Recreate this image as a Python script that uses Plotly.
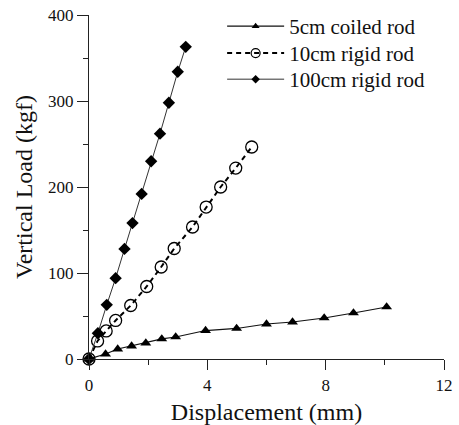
import plotly.graph_objects as go

# 5cm coiled rod
coil_x = [0, 0.56, 0.97, 1.44, 1.92, 2.46, 2.93, 3.94, 4.99, 6.0, 6.88, 7.95, 8.94, 10.06]
coil_y = [0, 5.8, 11.6, 15.1, 18.6, 23.3, 25.6, 33.1, 35.5, 40.7, 43.0, 47.7, 53.5, 60.5]

# 10cm rigid rod
r10_x = [0, 0.29, 0.58, 0.90, 1.41, 1.95, 2.44, 2.88, 3.50, 3.96, 4.45, 4.96, 5.50]
r10_y = [0, 21, 32.6, 44.8, 62.2, 84.3, 107, 128.5, 153.5, 176.7, 200, 222, 246.5]

# 100cm rigid rod
r100_x = [0, 0.30, 0.60, 0.90, 1.20, 1.47, 1.78, 2.10, 2.40, 2.70, 3.00, 3.27]
r100_y = [0, 30, 63, 94, 128, 158, 192, 230, 262, 298, 334, 363]

names = ["5cm coiled rod", "10cm rigid rod", "100cm rigid rod"]
x_ticks = [0, 4, 8, 12]
y_ticks = [0, 100, 200, 300, 400]

FONT = "Liberation Serif, Times New Roman, serif"

styles = [
    dict(line=dict(color="#111", width=1.2),
         marker=dict(symbol="triangle-up", size=9.5, color="#000"),
         legend_marker=dict(symbol="triangle-up", size=7, color="#000")),
    dict(line=dict(color="#000", width=2, dash="5px,4px"),
         marker=dict(symbol="circle-open", size=12, color="#000", line=dict(width=1.3)),
         legend_marker=dict(symbol="circle-open", size=9, color="#000", line=dict(width=1.2))),
    dict(line=dict(color="#333", width=1),
         marker=dict(symbol="diamond", size=9.5, color="#000"),
         legend_marker=dict(symbol="diamond", size=6.5, color="#000")),
]
series = [(coil_x, coil_y), (r10_x, r10_y), (r100_x, r100_y)]
legend_ids = ["legend", "legend2", "legend3"]
legend_ys = [1.026, 0.948, 0.872]

fig = go.Figure()
for (xs, ys), nm, st in zip(series, names, styles):
    fig.add_trace(go.Scatter(
        x=xs, y=ys, name=nm, mode="lines+markers",
        line=st["line"], marker=st["marker"], cliponaxis=False, showlegend=False))
# legend-only entries (no data) with smaller legend symbols, one legend per row
for nm, st, lid in zip(names, styles, legend_ids):
    fig.add_trace(go.Scatter(
        x=[None], y=[None], name=nm, mode="lines+markers",
        line=st["line"], marker=st["legend_marker"], showlegend=True, legend=lid))

legend_common = dict(x=0.375, xanchor="left", yanchor="top",
                     font=dict(family=FONT, size=21, color="#111"),
                     bgcolor="rgba(0,0,0,0)", itemwidth=57)

fig.update_layout(
    width=459, height=425,
    margin=dict(l=89, r=15, t=15, b=66, autoexpand=False),
    paper_bgcolor="white", plot_bgcolor="white",
    font=dict(family=FONT, color="#111", size=17),
    showlegend=True,
    legend=dict(y=legend_ys[0], **legend_common),
    legend2=dict(y=legend_ys[1], **legend_common),
    legend3=dict(y=legend_ys[2], **legend_common),
    xaxis=dict(range=[0, 12], tickvals=x_ticks, ticktext=[str(v) for v in x_ticks],
               showgrid=False, zeroline=False, showline=True, linecolor="#222", linewidth=1.3,
               ticks="outside", ticklen=10, tickwidth=1.2, tickcolor="#222",
               minor=dict(dtick=2, ticks="outside", ticklen=5, tickcolor="#222", showgrid=False),
               tickfont=dict(size=17),
               title=dict(text="Displacement (mm)", font=dict(size=24), standoff=12)),
    yaxis=dict(range=[0, 400], tickvals=y_ticks, ticktext=[str(v) for v in y_ticks],
               showgrid=False, zeroline=False, showline=True, linecolor="#222", linewidth=1.3,
               ticks="outside", ticklen=11, tickwidth=1.2, tickcolor="#222",
               minor=dict(dtick=50, ticks="outside", ticklen=5, tickcolor="#222", showgrid=False),
               tickfont=dict(size=17),
               title=dict(text="Vertical Load (kgf)", font=dict(size=24), standoff=8)),
)

fig.write_html("out.html")
